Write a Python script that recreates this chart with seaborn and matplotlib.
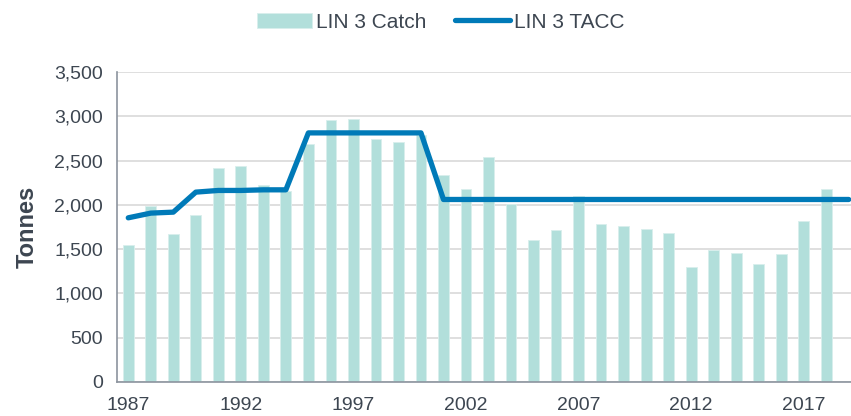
import matplotlib
matplotlib.use("Agg")
import matplotlib.pyplot as plt
import numpy as np
import pandas as pd
import seaborn as sns

# LIN 3 catch and TACC by fishing year (tonnes)
years = list(range(1987, 2020))
catch = [1549, 1981, 1673, 1883, 2417, 2436, 2226, 2160, 2688, 2962,
         2974, 2748, 2714, 2790, 2338, 2173, 2538, 2004, 1605, 1718,
         2098, 1786, 1759, 1726, 1677, 1301, 1485, 1451, 1335, 1447,
         1816, 2180, np.nan]
tacc = [1853, 1906, 1917, 2143, 2162, 2162, 2169, 2169, 2812, 2812,
        2812, 2812, 2812, 2812, 2060, 2060, 2060, 2060, 2060, 2060,
        2060, 2060, 2060, 2060, 2060, 2060, 2060, 2060, 2060, 2060,
        2060, 2060, 2060]
tick_years = [1987, 1992, 1997, 2002, 2007, 2012, 2017]

df = pd.DataFrame({"Year": years, "Catch": catch, "TACC": tacc})

text_color = "#3d4651"
bar_color = "#b2dfdb"
line_color = "#007ab8"

sns.set_theme(style="white")
plt.rcParams["font.family"] = ["Liberation Sans", "DejaVu Sans"]

fig = plt.figure(figsize=(8.51, 4.16), dpi=100)
ax = fig.add_axes([0.1375, 0.082, 0.8625, 0.745])

sns.barplot(data=df, x="Year", y="Catch", native_scale=True, width=0.48,
            color=bar_color, saturation=1, edgecolor="#d8efed", linewidth=0.6,
            label="LIN 3 Catch", ax=ax, zorder=2)
sns.lineplot(data=df, x="Year", y="TACC", color=line_color, linewidth=3.8,
             label="LIN 3 TACC", ax=ax, zorder=3,
             solid_capstyle="round", solid_joinstyle="round")

ax.set_xlim(1986.5, 2019.1)
ax.set_ylim(0, 3500)
ax.set_yticks(np.arange(0, 3501, 500))
ax.set_yticklabels([f"{v:,}" for v in range(0, 3501, 500)])
ax.set_xticks(tick_years)
ax.set_xticklabels([str(y) for y in tick_years])

ax.grid(axis="y", color="#d9d9d9", linewidth=1.2, zorder=0)
ax.set_axisbelow(True)

for side in ["top", "right"]:
    ax.spines[side].set_visible(False)
for side in ["left", "bottom"]:
    ax.spines[side].set_color("#8c949e")
    ax.spines[side].set_linewidth(1.2)

ax.tick_params(axis="both", length=0, labelsize=14, labelcolor=text_color)
ax.tick_params(axis="y", pad=10)
ax.tick_params(axis="x", pad=11)

ax.set_xlabel("")
ax.set_ylabel("Tonnes", fontsize=17, fontweight="bold", color=text_color, labelpad=11)

# legend: catch first, then TACC
handles, labels = ax.get_legend_handles_labels()
order = [labels.index("LIN 3 Catch"), labels.index("LIN 3 TACC")]
fig.legend([handles[i] for i in order], [labels[i] for i in order],
           loc="center", bbox_to_anchor=(0.518, 0.947), ncol=2,
           frameon=False, fontsize=15, labelcolor=text_color,
           handlelength=2.6, handletextpad=0.2, columnspacing=1.4)
if ax.get_legend():
    ax.get_legend().remove()

fig.savefig("out.png", dpi=100)
